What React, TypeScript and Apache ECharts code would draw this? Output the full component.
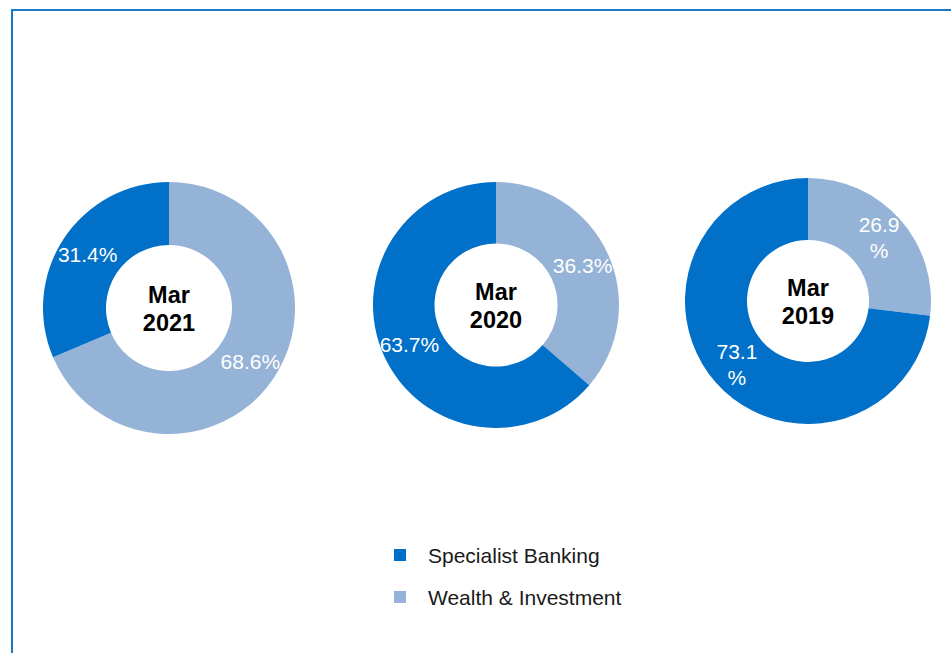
import React, { useEffect, useRef } from "react";
import * as echarts from "echarts";

const years = ["Mar\n2021", "Mar\n2020", "Mar\n2019"];
const seriesNames = ["Wealth & Investment", "Specialist Banking"];
const wealthValues = [68.6, 36.3, 26.9];
const specialistValues = [31.4, 63.7, 73.1];
const wrapLabel = [false, false, true];
const legendOrder = ["Specialist Banking", "Wealth & Investment"];

const COLORS: Record<string, string> = {
  "Specialist Banking": "#0070C8",
  "Wealth & Investment": "#95B3D7",
};

const layout = [
  { cx: 169, cy: 308, r: 126, ir: 63 },
  { cx: 496, cy: 305, r: 123, ir: 61.5 },
  { cx: 808, cy: 301, r: 123, ir: 61 },
];

const FONT = "Arial, 'Liberation Sans', sans-serif";

export default function App() {
  const ref = useRef<HTMLDivElement>(null);
  useEffect(() => {
    if (!ref.current) return;
    const chart = echarts.init(ref.current, undefined, { renderer: "svg" });
    const series = years.map((y, i) => ({
      type: "pie",
      name: y,
      center: [layout[i].cx, layout[i].cy],
      radius: [layout[i].ir, layout[i].r],
      startAngle: 90,
      clockwise: true,
      avoidLabelOverlap: false,
      emphasis: { disabled: true },
      label: {
        show: true,
        position: "inside",
        color: "#ffffff",
        fontSize: 21,
        fontFamily: FONT,
        lineHeight: 26,
        formatter: (p: any) =>
          wrapLabel[i] ? `${p.value.toFixed(1)}\n%` : `${p.value.toFixed(1)}%`,
      },
      labelLine: { show: false },
      data: [
        {
          name: seriesNames[0],
          value: wealthValues[i],
          itemStyle: { color: COLORS[seriesNames[0]] },
        },
        {
          name: seriesNames[1],
          value: specialistValues[i],
          itemStyle: { color: COLORS[seriesNames[1]] },
        },
      ],
    }));
    chart.setOption({
      animation: false,
      backgroundColor: "#ffffff",
      color: [COLORS[seriesNames[0]], COLORS[seriesNames[1]]],
      legend: {
        data: legendOrder,
        orient: "vertical",
        left: 394,
        top: 542,
        padding: 0,
        icon: "rect",
        itemWidth: 12,
        itemHeight: 12,
        itemGap: 16,
        selectedMode: false,
        textStyle: {
          fontSize: 21,
          fontFamily: FONT,
          color: "#1a1a1a",
          lineHeight: 24,
          padding: [2, 0, 0, 17],
        },
      },
      graphic: [
        {
          type: "rect",
          shape: { x: 12, y: 10, width: 1200, height: 1200 },
          style: { fill: "none", stroke: "#1a78c8", lineWidth: 2 },
          silent: true,
        },
        ...years.map((y, i) => ({
          type: "text",
          x: layout[i].cx,
          y: layout[i].cy + 1,
          style: {
            text: y,
            align: "center",
            verticalAlign: "middle",
            fontSize: 23.5,
            fontWeight: "bold",
            fontFamily: FONT,
            lineHeight: 28,
            fill: "#000000",
          },
          silent: true,
        })),
      ],
      series,
    });
    return () => chart.dispose();
  }, []);
  return (
    <div
      ref={ref}
      style={{ position: "fixed", left: 0, top: 0, width: 951, height: 653 }}
    />
  );
}
